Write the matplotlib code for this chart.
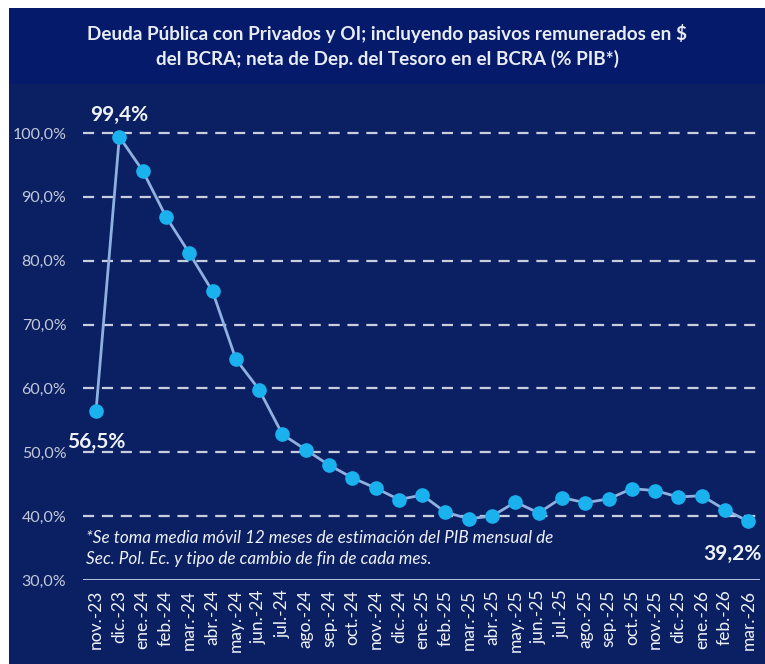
import matplotlib.pyplot as plt
from matplotlib.patches import Rectangle

meses = ["nov.-23", "dic.-23", "ene.-24", "feb.-24", "mar.-24", "abr.-24", "may.-24",
         "jun.-24", "jul.-24", "ago.-24", "sep.-24", "oct.-24", "nov.-24", "dic.-24",
         "ene.-25", "feb.-25", "mar.-25", "abr.-25", "may.-25", "jun.-25", "jul.-25",
         "ago.-25", "sep.-25", "oct.-25", "nov.-25", "dic.-25", "ene.-26", "feb.-26",
         "mar.-26"]
deuda = [56.5, 99.4, 94.1, 86.9, 81.2, 75.2, 64.6, 59.8, 52.8, 50.4, 48.0, 46.0, 44.4,
         42.6, 43.3, 40.6, 39.6, 40.0, 42.2, 40.5, 42.9, 42.1, 42.7, 44.3, 44.0, 43.0,
         43.2, 41.0, 39.2]
yticks = [30, 40, 50, 60, 70, 80, 90, 100]

titulo = ("Deuda Pública con Privados y OI; incluyendo pasivos remunerados en $\n"
          "del BCRA; neta de Dep. del Tesoro en el BCRA (% PIB*)")
nota = ("*Se toma media móvil 12 meses de estimación del PIB mensual de\n"
        "Sec. Pol. Ec. y tipo de cambio de fin de cada mes.")

BG_TITLE = "#061a6c"
BG_PLOT = "#0b2063"

plt.rcParams["font.family"] = ["Lato", "DejaVu Sans"]

W, H = 765, 664
fig = plt.figure(figsize=(W / 100, H / 100), dpi=100, facecolor="white")

# fondos
fig.patches.append(Rectangle((9 / W, 0), 1 - 9 / W, (H - 84) / H, transform=fig.transFigure,
                             facecolor=BG_PLOT, edgecolor="none", zorder=-2))
fig.patches.append(Rectangle((9 / W, (H - 84) / H), 1 - 9 / W, 76 / H, transform=fig.transFigure,
                             facecolor=BG_TITLE, edgecolor="none", zorder=-2))
fig.text(0.506, (H - 46) / H, titulo, ha="center", va="center", color="#e8ecf4",
         fontsize=13.6, fontweight="bold", linespacing=1.4, zorder=3)

ax = fig.add_axes([83 / W, 84 / H, (760 - 83) / W, (580 - 107.4) / H])
ax.set_zorder(2)
ax.set_facecolor("none")

x = list(range(len(meses)))
ax.plot(x, deuda, color="#8fb0e0", lw=2, zorder=3)
ax.plot(x, deuda, ls="none", marker="o", ms=9.5, color="#19b2ef", mec="#19b2ef", zorder=4)

ax.set_xlim(-0.56, 28.5)
ax.set_ylim(30, 104)
ax.set_yticks(yticks)
ax.set_yticklabels([f"{v:.1f}%".replace(".", ",") for v in yticks])
for v in yticks[1:]:
    ax.axhline(v, color="#c9cedf", lw=1.6, ls=(0, (5, 3.5)), zorder=1)
ax.axhline(30, color="#b8c4e0", lw=1.4, zorder=1)

ax.set_xticks(x)
ax.set_xticklabels(meses, rotation=90)
ax.tick_params(axis="x", length=0, pad=7, labelsize=12.5, labelcolor="#eef1f7")
ax.tick_params(axis="y", length=0, pad=12, labelsize=11.5, labelcolor="#c3c9d9")
for s in ax.spines.values():
    s.set_visible(False)

# etiquetas de datos
lbl = dict(color="#eef1f7", fontsize=15, fontweight="bold")
ax.text(1, deuda[1] + 3.4, "99,4%", ha="center", va="center", **lbl)
ax.text(0, 51.6, "56,5%", ha="center", va="center", **lbl)
ax.text(28.55, 34.1, "39,2%", ha="right", va="center", **lbl)

ax.text(-0.45, 34.9, nota, ha="left", va="center", color="#eef1f7", fontsize=12.3,
        style="italic", linespacing=1.4)

fig.savefig("out.png", dpi=100, facecolor=fig.get_facecolor())
